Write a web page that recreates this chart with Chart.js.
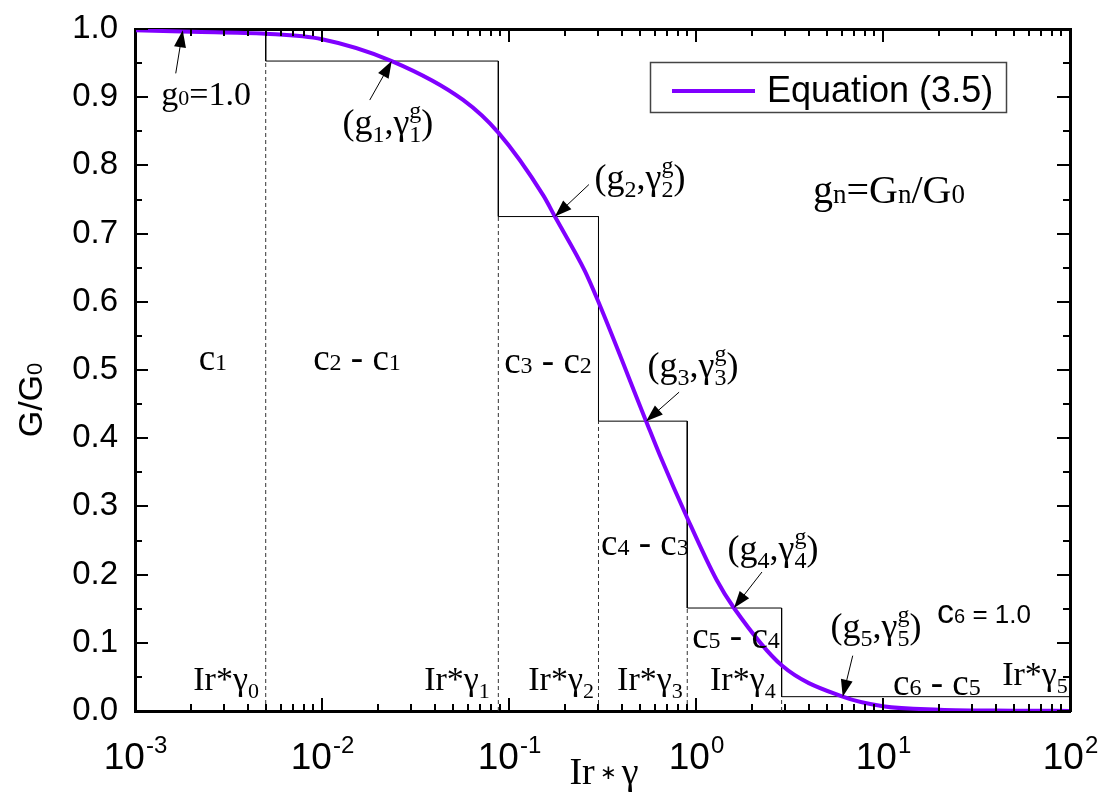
<!DOCTYPE html>
<html>
<head>
<meta charset="utf-8">
<script src="https://cdn.jsdelivr.net/npm/chart.js@4/dist/chart.umd.min.js"></script>
<style>
  body { margin: 0; background: #fff; }
  canvas { display: block; }
</style>
</head>
<body>
<canvas id="modulusChart" width="1105" height="796"></canvas>
<script>
// curve G/G0 vs Ir*gamma, read at these strain values
const curveX = [0.001, 0.002, 0.005, 0.01, 0.0236, 0.0568, 0.0877, 0.1525, 0.176, 0.2547, 0.3006,
                0.541, 0.641, 0.898, 1.29, 1.596, 2.87, 6.09, 10, 20, 50, 100];
const curveY = [0.998, 0.996, 0.993, 0.985, 0.953, 0.896, 0.848, 0.756, 0.725, 0.645, 0.600,
                0.425, 0.375, 0.283, 0.192, 0.151, 0.067, 0.021, 0.007, 0.002, 0.0005, 0.0001];

// staircase: edges Ir*gamma_n and levels g_n
const stepEdges  = [0.001, 0.005, 0.0877, 0.301, 0.898, 2.87, 100];
const stepLevels = [1.0, 0.953, 0.725, 0.425, 0.151, 0.021];

// (g_n, gamma_n^g) where the curve meets each level
const gammaG = [0.0236, 0.176, 0.541, 1.596, 6.09];

const xTickExps = [-3, -2, -1, 0, 1, 2];
const seriesName = 'Equation (3.5)';

const SERIF = '"Liberation Serif", "Times New Roman", serif';
const SANS  = '"Liberation Sans", Arial, sans-serif';
const PURPLE = '#8000ff';

// build line tables
const curvePts = curveX.map((x, i) => ({ x, y: curveY[i] }));

const stepPts = [];
stepLevels.forEach((g, i) => {
  stepPts.push({ x: stepEdges[i], y: g });
  stepPts.push({ x: stepEdges[i + 1], y: g });
});

const dashPts = [];
for (let i = 1; i < stepEdges.length - 1; i++) {
  dashPts.push({ x: stepEdges[i], y: 0 });
  dashPts.push({ x: stepEdges[i], y: stepLevels[i] });
  dashPts.push({ x: stepEdges[i], y: null });
}

// rich text pieces
const n  = (t, size = 34) => ({ t, size });
const sm = (t, size = 22) => ({ t, size });
const sb = (t, size = 22) => ({ t, size, dy: 8 });
const ss = (sub, sup, size = 22) => ({ sub, sup, size });

const pair = k => [n('(g', 36), sb(k, 24), n(',γ', 36), ss(k, 'g', 24), n(')', 36)];
const diff = (a, b) => [n('c', 37), sm(a, 24), n(' - c', 37), sm(b, 24)];
const irg  = k => [n('Ir*γ'), sb(k)];

const notes = [
  { x: 0.0024, y: 0.889, parts: [n('g'), sm('0'), n('=1.0')] },
  { x: 0.0225, y: 0.846, parts: pair('1') },
  { x: 0.502,  y: 0.765, parts: pair('2') },
  { x: 0.964,  y: 0.490, parts: pair('3') },
  { x: 2.58,   y: 0.221, parts: pair('4') },
  { x: 9.18,   y: 0.107, parts: pair('5') },
  { x: 10.77,  y: 0.745, parts: [n('g', 40), sm('n', 27), n('=G', 40), sm('n', 27), n('/G', 40), sm('0', 27)] },
  { x: 0.00261, y: 0.500, parts: [n('c', 37), sm('1', 24)] },
  { x: 0.01539, y: 0.500, parts: diff('2', '1') },
  { x: 0.1617, y: 0.496, parts: diff('3', '2') },
  { x: 0.533,  y: 0.229, parts: diff('4', '3') },
  { x: 1.637,  y: 0.092, parts: diff('5', '4') },
  { x: 19.4,   y: 0.023, parts: diff('6', '5') },
  { x: 34.7,   y: 0.129, fam: SANS, parts: [n('c', 34), sm('6', 20), n(' = 1.0', 26)] },
  { x: 0.00307, y: 0.031, parts: irg('0') },
  { x: 0.0527, y: 0.031, parts: irg('1') },
  { x: 0.190,  y: 0.031, parts: irg('2') },
  { x: 0.567,  y: 0.031, parts: irg('3') },
  { x: 1.78,   y: 0.031, parts: irg('4') },
  { x: 65.0,   y: 0.038, parts: irg('5') }
];

// arrow tips in data units, tails as pixel offsets
const arrows = [
  { x: 0.0018, y: 0.998 },
  ...gammaG.map((x, i) => ({ x, y: stepLevels[i + 1] }))
];
const tailOffsets = [[-7, 43], [-22, 39], [34, -32], [33, -29], [28, -36], [10, -41]];

function partWidth(ctx, p, fam) {
  ctx.font = `${p.size}px ${fam}`;
  if (p.sup !== undefined) return Math.max(ctx.measureText(p.sub).width, ctx.measureText(p.sup).width);
  return ctx.measureText(p.t).width;
}

function drawRich(ctx, parts, cx, baseY, fam) {
  const widths = parts.map(p => partWidth(ctx, p, fam));
  let x = cx - widths.reduce((a, b) => a + b, 0) / 2;
  ctx.textAlign = 'left';
  ctx.textBaseline = 'alphabetic';
  parts.forEach((p, i) => {
    ctx.font = `${p.size}px ${fam}`;
    if (p.sup !== undefined) {
      ctx.fillText(p.sub, x, baseY + 8);
      ctx.fillText(p.sup, x, baseY - 16);
    } else {
      ctx.fillText(p.t, x, baseY + (p.dy || 0));
    }
    x += widths[i];
  });
}

function arrow(ctx, x0, y0, x1, y1) {
  const a = Math.atan2(y1 - y0, x1 - x0);
  const len = 17, hw = 6;
  ctx.beginPath();
  ctx.moveTo(x0, y0);
  ctx.lineTo(x1 - Math.cos(a) * len * 0.8, y1 - Math.sin(a) * len * 0.8);
  ctx.stroke();
  ctx.beginPath();
  ctx.moveTo(x1, y1);
  ctx.lineTo(x1 - Math.cos(a) * len - Math.sin(a) * hw, y1 - Math.sin(a) * len + Math.cos(a) * hw);
  ctx.lineTo(x1 - Math.cos(a) * len + Math.sin(a) * hw, y1 - Math.sin(a) * len - Math.cos(a) * hw);
  ctx.closePath();
  ctx.fill();
}

const decorations = {
  id: 'decorations',
  afterDraw(chart) {
    const { ctx, chartArea: ca, scales: { x, y } } = chart;
    ctx.save();
    ctx.fillStyle = '#000';
    ctx.strokeStyle = '#000';

    // inward ticks on all four sides
    ctx.lineWidth = 2;
    ctx.beginPath();
    for (let e = -3; e < 2; e++) {
      for (let k = 1; k <= 10; k++) {
        const px = Math.round(x.getPixelForValue(k * Math.pow(10, e)));
        const len = (k === 1 || k === 10) ? 13 : 7;
        ctx.moveTo(px, ca.bottom); ctx.lineTo(px, ca.bottom - len);
        ctx.moveTo(px, ca.top);    ctx.lineTo(px, ca.top + len);
      }
    }
    for (let i = 0; i <= 20; i++) {
      const py = Math.round(y.getPixelForValue(i * 0.05));
      const len = i % 2 === 0 ? 13 : 7;
      ctx.moveTo(ca.left, py);  ctx.lineTo(ca.left + len, py);
      ctx.moveTo(ca.right, py); ctx.lineTo(ca.right - len, py);
    }
    ctx.stroke();

    // x tick labels 10^n
    xTickExps.forEach(e => {
      const px = x.getPixelForValue(Math.pow(10, e));
      ctx.font = `37px ${SANS}`;
      const wb = ctx.measureText('10').width;
      ctx.font = `24px ${SANS}`;
      const we = ctx.measureText(String(e)).width;
      const x0 = px - (wb + we) / 2;
      ctx.textAlign = 'left';
      ctx.textBaseline = 'alphabetic';
      ctx.font = `37px ${SANS}`;
      ctx.fillText('10', x0, 769);
      ctx.font = `24px ${SANS}`;
      ctx.fillText(String(e), x0 + wb + 1, 753);
    });

    // axis titles
    drawRich(ctx, [n('Ir', 38), { t: ' ∗ ', size: 20, dy: -5 }, n('γ', 38)], 604, 784, SERIF);
    ctx.save();
    ctx.translate(42, 400);
    ctx.rotate(-Math.PI / 2);
    drawRich(ctx, [n('G/G', 34), sm('0', 22)], 0, 0, SANS);
    ctx.restore();

    // annotations
    notes.forEach(nt => {
      drawRich(ctx, nt.parts, x.getPixelForValue(nt.x), y.getPixelForValue(nt.y), nt.fam || SERIF);
    });

    ctx.lineWidth = 1;
    arrows.forEach((a, i) => {
      const tx = x.getPixelForValue(a.x), ty = y.getPixelForValue(a.y);
      const [dx, dy] = tailOffsets[i];
      arrow(ctx, tx + dx, ty + dy, tx, ty);
    });

    // legend
    ctx.strokeStyle = '#444';
    ctx.lineWidth = 1.5;
    ctx.strokeRect(650.5, 62.5, 356, 50);
    ctx.strokeStyle = PURPLE;
    ctx.lineWidth = 4;
    ctx.beginPath();
    ctx.moveTo(672, 91); ctx.lineTo(755, 91);
    ctx.stroke();
    ctx.font = `36px ${SANS}`;
    ctx.textAlign = 'left';
    ctx.textBaseline = 'middle';
    ctx.fillText(seriesName, 767, 92);

    ctx.restore();
  }
};

const frame = { width: 3, color: '#000' };
const noGrid = { display: false, drawTicks: false };

new Chart(document.getElementById('modulusChart'), {
  type: 'line',
  data: {
    datasets: [
      { label: seriesName, data: curvePts, borderColor: PURPLE, borderWidth: 4,
        pointRadius: 0, cubicInterpolationMode: 'monotone', fill: false },
      { label: 'steps', data: stepPts, borderColor: '#000', borderWidth: 1,
        pointRadius: 0, fill: false },
      { label: 'edges', data: dashPts, borderColor: '#333', borderWidth: 1,
        borderDash: [4, 3], pointRadius: 0, spanGaps: false, fill: false }
    ]
  },
  options: {
    responsive: false,
    devicePixelRatio: 1,
    animation: false,
    plugins: { legend: { display: false }, tooltip: { enabled: false } },
    layout: { padding: 0 },
    scales: {
      x: {
        type: 'logarithmic', position: 'bottom', min: 0.001, max: 100,
        border: frame, grid: noGrid, ticks: { display: false },
        afterFit: s => { s.height = 85; s.paddingLeft = 0; s.paddingRight = 0; }
      },
      x2: {
        type: 'logarithmic', position: 'top', min: 0.001, max: 100,
        border: frame, grid: noGrid, ticks: { display: false },
        afterFit: s => { s.height = 29; s.paddingLeft = 0; s.paddingRight = 0; }
      },
      y: {
        type: 'linear', position: 'left', min: 0, max: 1,
        border: frame, grid: noGrid,
        ticks: {
          stepSize: 0.1, padding: 17, color: '#000',
          font: { family: SANS, size: 33 },
          callback: v => v.toFixed(1)
        },
        afterFit: s => { s.width = 135; s.paddingTop = 0; s.paddingBottom = 0; }
      },
      y2: {
        type: 'linear', position: 'right', min: 0, max: 1,
        border: frame, grid: noGrid, ticks: { display: false },
        afterFit: s => { s.width = 35; s.paddingTop = 0; s.paddingBottom = 0; }
      }
    }
  },
  plugins: [decorations]
});
</script>
</body>
</html>
